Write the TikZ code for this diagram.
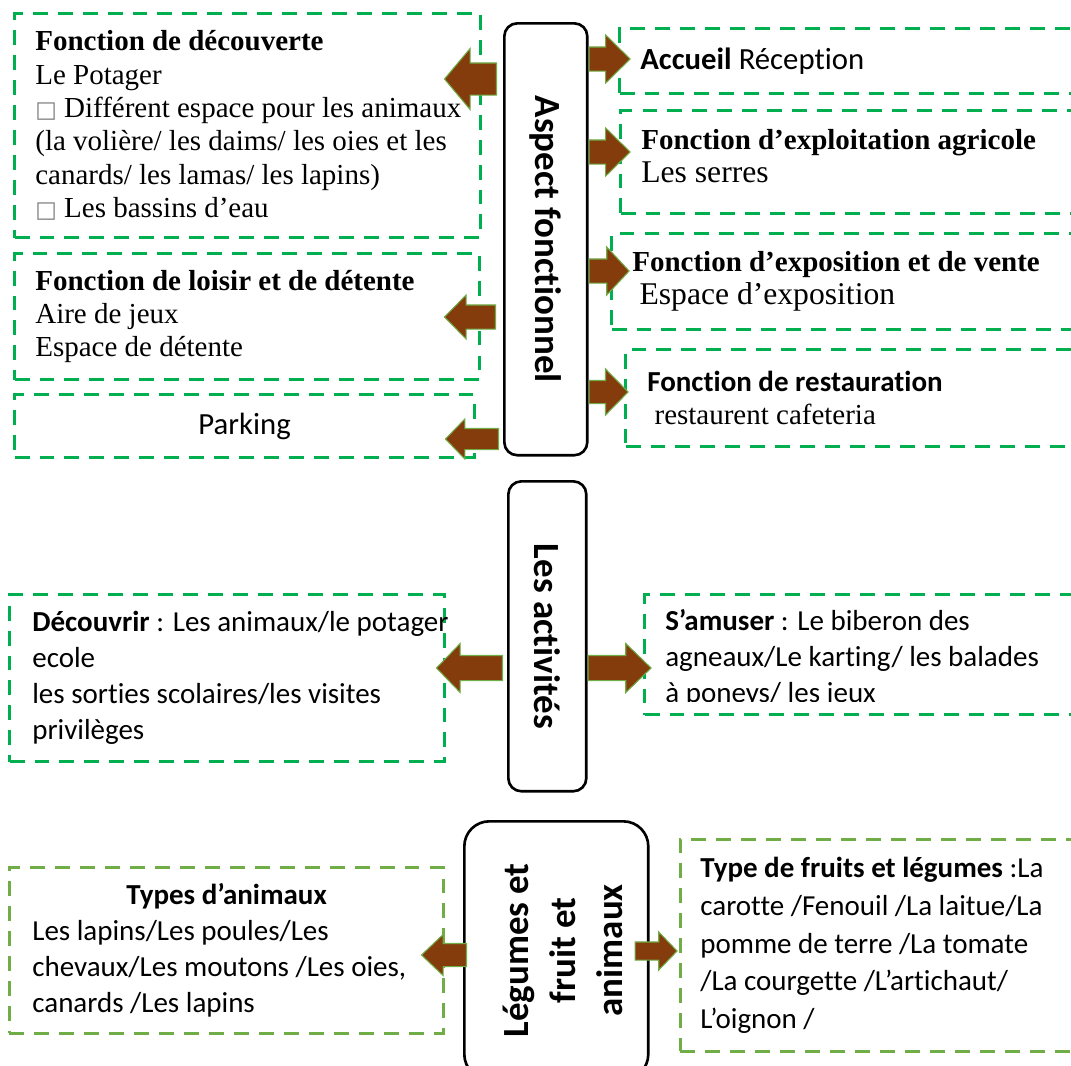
\documentclass[tikz,border=0pt]{standalone}
\usepackage{fontspec}
\setmainfont{Liberation Serif}
\setsansfont[Ligatures=NoCommon]{Carlito}
\newfontfamily\symbfont{DejaVu Sans}
\usepackage{graphicx}
\usepackage{xcolor}
\definecolor{DashGreen}{HTML}{00B050}
\definecolor{DashOlive}{HTML}{70AD47}
\definecolor{ArrowBrown}{HTML}{843C0C}
\definecolor{ArrowEdge}{HTML}{70AD47}
\usepackage{tikz}
\usetikzlibrary{positioning,calc,shapes.arrows}
\newcommand\tofu{{\symbfont\color{gray}\fontsize{13}{13}\selectfont □}}
\tikzset{
  fnbox/.style={draw=DashGreen, line width=1.8pt, dash pattern=on 8.5pt off 5.7pt,
                anchor=north west, inner sep=0pt},
  fnboxol/.style={fnbox, draw=DashOlive, line width=1.6pt},
  fnser/.style={align=left, inner sep=0pt, font=\fontsize{16.5}{19}\selectfont},
  fnsans/.style={align=left, inner sep=0pt, font=\sffamily\fontsize{16.5}{20.4}\selectfont},
  fnhub/.style={draw, line width=1.5pt, rounded corners=0.26cm, anchor=north west, inner sep=0pt,
                font=\sffamily\bfseries\fontsize{21}{26.6}\selectfont},
  fnarr/.style={single arrow, fill=ArrowBrown, draw=ArrowEdge, line width=0.6pt, inner xsep=0pt},
  fnleft/.style={fnarr, shape border rotate=180, anchor=tail},
  fnright/.style={fnarr, anchor=tail},
  arrsize/.style n args={5}{minimum height=#1cm, minimum width=#2cm,
                single arrow head extend=#3cm, single arrow tip angle=#4, inner ysep=#5cm}
}
\begin{document}
\begin{tikzpicture}[x=0.02cm, y=-0.02cm]
\useasboundingbox (0,0) rectangle (1071,1065);
% central blocks
\node[fnhub, minimum width=1.66cm, minimum height=8.64cm] (h1) at (503,22) {\rotatebox{-90}{Aspect fonctionnel}};
\node[fnhub, minimum width=1.56cm, minimum height=6.2cm] (h2) at (507,480) {\rotatebox{-90}{Les activités}};
\node[fnhub, rounded corners=0.5cm, minimum width=3.68cm, minimum height=5.16cm] (h3) at (463,820)
  {\rotatebox{90}{\raisebox{-0.2cm}[\height][\depth]{\begin{tabular}{@{}c@{}}Légumes et\\fruit et\\animaux\end{tabular}}}};
% left column, top
\node[fnbox, minimum width=9.32cm, minimum height=4.48cm] (b1) at (13,12) {};
\node[fnser, right=0.44cm of b1.west] (t1) {\textbf{Fonction de découverte}\\Le Potager\\\tofu\ Différent espace pour les animaux\\(la volière/ les daims/ les oies et les\\canards/ les lamas/ les lapins)\\\tofu\ Les bassins d’eau};
\node[fnbox, minimum width=9.3cm, minimum height=2.52cm] (b2) at (13,252) {};
\node[fnser, right=0.44cm of b2.west] (t2) {\textbf{Fonction de loisir et de détente}\\Aire de jeux\\Espace de détente};
\node[fnbox, minimum width=9.2cm, minimum height=1.26cm] (b3) at (13,393) {};
\node[fnsans, font=\sffamily\fontsize{17.5}{21}\selectfont] (t3) at (b3.center) {Parking};
% right column, top
\node[fnbox, minimum width=9.34cm, minimum height=1.3cm] (b4) at (618,27) {};
\node[fnsans, font=\sffamily\fontsize{17.5}{21}\selectfont, right=0.44cm of b4.west] (t4) {\textbf{Accueil} Réception};
\node[fnbox, minimum width=9.32cm, minimum height=2.06cm] (b5) at (619,109) {};
\node[fnser, right=0.44cm of b5.west, yshift=0.12cm] (t5) {\textbf{Fonction d’exploitation agricole}\\{\fontsize{18}{20}\selectfont Les serres}};
\node[fnbox, minimum width=9.5cm, minimum height=1.92cm] (b6) at (610,232) {};
\node[fnser, right=0.44cm of b6.west] (t6) {\textbf{Fonction d’exposition et de vente}\\\hspace*{0.25em}{\fontsize{18}{20}\selectfont Espace d’exposition}};
\node[fnbox, minimum width=9.22cm, minimum height=1.94cm] (b7) at (624,348) {};
\node[fnser, right=0.46cm of b7.west] (t7) {{\sffamily\bfseries Fonction de restauration}\\\hspace*{0.25em}restaurent cafeteria};
% activities
\node[fnbox, minimum width=8.7cm, minimum height=3.34cm] (b8) at (8,593) {};
\node[fnsans, right=0.48cm of b8.west] (t8) {\textbf{Découvrir} : Les animaux/le potager\\ecole\\les sorties scolaires/les visites\\privilèges};
\node[fnbox, minimum width=8.84cm, minimum height=2.4cm] (b9) at (643,593) {};
\begin{scope}
  \clip (646,596) rectangle (1080,701);
  \node[fnsans, anchor=north west] (t9) at (665,609) {\textbf{S’amuser} : Le biberon des\\agneaux/Le karting/ les balades\\à poneys/ les jeux};
\end{scope}
% fruits, vegetables and animals
\node[fnboxol, minimum width=8.68cm, minimum height=3.32cm] (b10) at (8,866) {};
\node[fnsans, right=0.48cm of b10.west] (t10) {\hspace*{1.88cm}\textbf{Types d’animaux}\\Les lapins/Les poules/Les\\chevaux/Les moutons /Les oies,\\canards /Les lapins};
\node[fnboxol, minimum width=8.12cm, minimum height=4.24cm] (b11) at (679,838) {};
\node[fnsans, font=\sffamily\fontsize{16.5}{21.4}\selectfont, right=0.42cm of b11.west] (t11) {\textbf{Type de fruits et légumes} :La\\carotte /Fenouil /La laitue/La\\pomme de terre /La tomate\\/La courgette /L’artichaut/\\L’oignon /};
% block arrows
\node[fnleft, arrsize={1.04}{1.2}{0.29}{100}{0.31}] (a1) at ($(h1.west |- 0,79)+(-6,0)$) {};
\node[fnleft, arrsize={1.02}{0.86}{0.2}{91}{0.23}] (a2) at ($(h1.west |- 0,317)+(-7,0)$) {};
\node[fnleft, arrsize={1.06}{0.78}{0.19}{92}{0.2}] (a3) at ($(h1.west |- 0,439)+(-4,0)$) {};
\node[fnright, arrsize={0.82}{0.94}{0.24}{89}{0.23}] (a4) at (h1.east |- 0,59) {};
\node[fnright, arrsize={0.82}{0.94}{0.24}{89}{0.23}] (a5) at (h1.east |- 0,152) {};
\node[fnright, arrsize={0.8}{0.94}{0.24}{94}{0.23}] (a6) at (h1.east |- 0,271) {};
\node[fnright, arrsize={0.78}{0.9}{0.23}{91}{0.22}] (a7) at (h1.east |- 0,392) {};
\node[fnleft, arrsize={1.32}{0.96}{0.24}{92}{0.24}] (a8) at ($(h2.west |- 0,668)+(-4,0)$) {};
\node[fnright, arrsize={1.26}{0.96}{0.24}{88}{0.24}] (a9) at (h2.east |- 0,668) {};
\node[fnleft, arrsize={0.9}{0.8}{0.18}{87}{0.22}] (a10) at ($(h3.west |- 0,955)+(4,0)$) {};
\node[fnright, arrsize={0.84}{0.74}{0.2}{92}{0.17}] (a11) at ($(h3.east |- 0,951)+(-15,0)$) {};
\end{tikzpicture}
\end{document}
